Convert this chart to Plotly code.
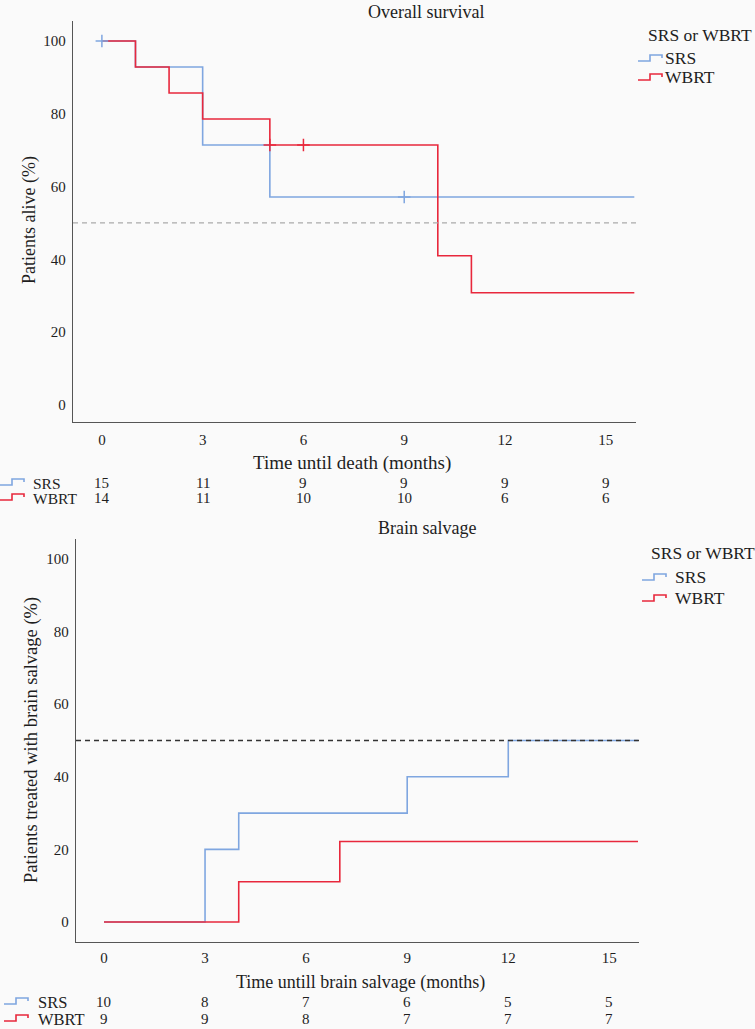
import plotly.graph_objects as go

W, H = 755, 1029

# ---------------- data ----------------
os_srs_t = [0, 1, 3, 5, 15.85]
os_srs_s = [100, 92.86, 71.43, 57.14, 57.14]
os_srs_cens_t = [0, 9]
os_srs_cens_s = [100, 57.14]

os_wbrt_t = [0, 1, 2, 3, 5, 10, 11, 15.85]
os_wbrt_s = [100, 92.86, 85.71, 78.57, 71.43, 41.0, 30.8, 30.8]
os_wbrt_cens_t = [5, 6]
os_wbrt_cens_s = [71.43, 71.43]

bs_srs_t = [0, 3, 4, 9, 12, 15.85]
bs_srs_s = [0, 20, 30, 40, 50, 50]
bs_wbrt_t = [0, 4, 7, 15.85]
bs_wbrt_s = [0, 11.1, 22.2, 22.2]

risk_times = [0, 3, 6, 9, 12, 15]
os_risk_srs = [15, 11, 9, 9, 9, 9]
os_risk_wbrt = [14, 11, 10, 10, 6, 6]
bs_risk_srs = [10, 8, 7, 6, 5, 5]
bs_risk_wbrt = [9, 9, 8, 7, 7, 7]

x_ticks = [0, 3, 6, 9, 12, 15]
y_ticks = [0, 20, 40, 60, 80, 100]
median_line = 50

BLUE = "#7fa6e0"
RED = "#e8283c"
FONT = "'Liberation Serif', 'DejaVu Serif', serif"
BG = "#fafafa"
TXT = "#1e1e1e"


def px(x):
    return x / W


def py(y):
    return 1 - y / H


fig = go.Figure()

# ----- top chart traces -----
fig.add_trace(go.Scatter(x=os_srs_t, y=os_srs_s, mode="lines", line=dict(color=BLUE, width=1.6, shape="hv"),
                         xaxis="x", yaxis="y", showlegend=False, hoverinfo="skip"))
fig.add_trace(go.Scatter(x=os_wbrt_t, y=os_wbrt_s, mode="lines", line=dict(color=RED, width=1.6, shape="hv"),
                         xaxis="x", yaxis="y", showlegend=False, hoverinfo="skip"))
fig.add_trace(go.Scatter(x=os_srs_cens_t, y=os_srs_cens_s, mode="markers",
                         marker=dict(symbol="cross-thin-open", size=9, color=BLUE, line=dict(color=BLUE, width=1.5)),
                         xaxis="x", yaxis="y", showlegend=False, hoverinfo="skip"))
fig.add_trace(go.Scatter(x=os_wbrt_cens_t, y=os_wbrt_cens_s, mode="markers",
                         marker=dict(symbol="cross-thin-open", size=9, color=RED, line=dict(color=RED, width=1.5)),
                         xaxis="x", yaxis="y", showlegend=False, hoverinfo="skip"))

# ----- bottom chart traces -----
fig.add_trace(go.Scatter(x=bs_srs_t, y=bs_srs_s, mode="lines", line=dict(color=BLUE, width=1.6, shape="hv"),
                         xaxis="x2", yaxis="y2", showlegend=False, hoverinfo="skip"))
fig.add_trace(go.Scatter(x=bs_wbrt_t, y=bs_wbrt_s, mode="lines", line=dict(color=RED, width=1.6, shape="hv"),
                         xaxis="x2", yaxis="y2", showlegend=False, hoverinfo="skip"))

axis_common = dict(showgrid=False, zeroline=False, showline=True, linecolor="#555", linewidth=1.3,
                   ticks="", tickfont=dict(family=FONT, size=15, color=TXT), fixedrange=True)

fig.update_layout(
    width=W, height=H,
    margin=dict(l=0, r=0, t=0, b=0),
    paper_bgcolor=BG, plot_bgcolor=BG,
    font=dict(family=FONT, size=15, color=TXT),
    showlegend=False,
    xaxis=dict(domain=[px(73), px(636)], range=[-0.86, 15.9], tickvals=x_ticks, anchor="y",
               ticklabelstandoff=4, **axis_common),
    yaxis=dict(domain=[py(422), py(21)], range=[-4.7, 105.5], tickvals=y_ticks, anchor="x",
               ticklabelstandoff=3, **axis_common),
    xaxis2=dict(domain=[px(76), px(639)], range=[-0.83, 15.88], tickvals=x_ticks, anchor="y2",
                ticklabelstandoff=2, **axis_common),
    yaxis2=dict(domain=[py(942), py(539)], range=[-5.5, 105.5], tickvals=y_ticks, anchor="x2",
                ticklabelstandoff=3, **axis_common),
)

shapes = []
# median reference lines
shapes.append(dict(type="line", xref="x domain", yref="y", x0=0, x1=1, y0=median_line, y1=median_line,
                   line=dict(color="#aaaaaa", width=1.3, dash="5px,4px")))
shapes.append(dict(type="line", xref="x2 domain", yref="y2", x0=0, x1=1, y0=median_line, y1=median_line,
                   line=dict(color="#333333", width=1.3, dash="5px,4px")))


def step_icon(x0, yc, color, w=24, h=6):
    xm = x0 + w / 2
    x1 = x0 + w
    yb = yc + h / 2
    yt = yc - h / 2
    path = (f"M {px(x0)},{py(yb)} L {px(xm)},{py(yb)} L {px(xm)},{py(yt)} "
            f"L {px(x1)},{py(yt)} L {px(x1)},{py(yt + 3)}")
    return dict(type="path", xref="paper", yref="paper", path=path, line=dict(color=color, width=1.6))


# legend icons
shapes.append(step_icon(638, 58, BLUE))
shapes.append(step_icon(638, 77, RED))
shapes.append(step_icon(642, 577, BLUE))
shapes.append(step_icon(642, 598, RED))
# risk table icons
shapes.append(step_icon(0, 482, BLUE))
shapes.append(step_icon(0, 497, RED))
shapes.append(step_icon(4, 1001, BLUE))
shapes.append(step_icon(4, 1018, RED))

ann = []


def text(x, y, s, size=15, xanchor="center", xref="paper", angle=0):
    ann.append(dict(x=x if xref != "paper" else px(x), y=py(y), xref=xref, yref="paper", text=s,
                    showarrow=False, xanchor=xanchor, yanchor="middle", textangle=angle,
                    font=dict(family=FONT, size=size, color=TXT)))


# titles
text(426, 12, "Overall survival", 18)
text(427, 528, "Brain salvage", 18)
# x axis titles
text(352, 463, "Time until death (months)", 19)
text(360, 982, "Time untill brain salvage (months)", 18)
# y axis titles
text(29, 220, "Patients alive (%)", 18, angle=-90)
text(31, 740, "Patients treated with brain salvage (%)", 18.5, angle=-90)
# legends
text(646, 35, "SRS or WBRT", 17.5, "left")
text(663, 58, "SRS", 17.5, "left")
text(663, 77, "WBRT", 17.5, "left")
text(649, 553, "SRS or WBRT", 17.5, "left")
text(673, 577, "SRS", 17.5, "left")
text(673, 598, "WBRT", 17.5, "left")
# risk tables
text(31, 483, "SRS", 15.5, "left")
text(31, 498, "WBRT", 15.5, "left")
text(36, 1002, "SRS", 16.5, "left")
text(36, 1019, "WBRT", 16.5, "left")
for t, a, b in zip(risk_times, os_risk_srs, os_risk_wbrt):
    text(t, 483, str(a), 15, "center", "x")
    text(t, 498, str(b), 15, "center", "x")
for t, a, b in zip(risk_times, bs_risk_srs, bs_risk_wbrt):
    text(t, 1002, str(a), 15, "center", "x2")
    text(t, 1019, str(b), 15, "center", "x2")

fig.update_layout(shapes=shapes, annotations=ann)
fig.write_html("out.html", config={"displayModeBar": False},
               post_script="document.body.style.margin='0';document.body.style.padding='0';")
